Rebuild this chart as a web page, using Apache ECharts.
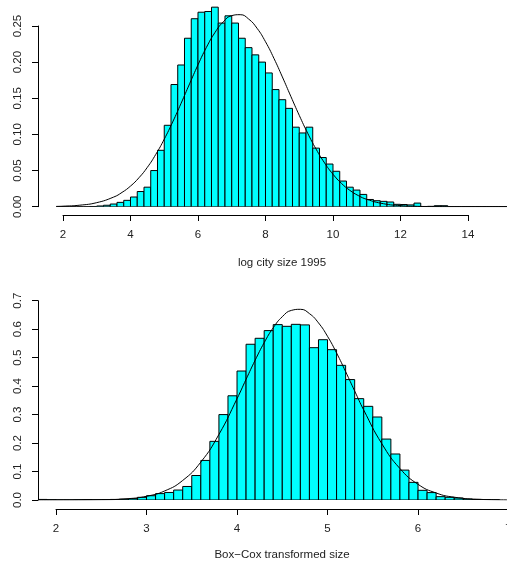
<!DOCTYPE html>
<html>
<head>
<meta charset="utf-8">
<script src="https://cdn.jsdelivr.net/npm/echarts@6/dist/echarts.min.js"></script>
<style>
html, body { margin: 0; padding: 0; background: #fff; }
#main { width: 507px; height: 561px; }
</style>
</head>
<body>
<div id="main"></div>
<script>
// top histogram: log city size 1995, bins of 0.2 starting at 1.8
var topBreakStart = 1.8;
var topBinWidth = 0.2;
var topDensity = [0, 0, 0, 0, 0,
  0.0003, 0.001, 0.002, 0.0037, 0.006, 0.0088, 0.0134, 0.021, 0.027, 0.050,
  0.078, 0.1126, 0.169, 0.196, 0.233, 0.260, 0.269, 0.270, 0.276, 0.254,
  0.264, 0.254, 0.233, 0.220, 0.210, 0.200, 0.185, 0.162, 0.148, 0.136,
  0.110, 0.102, 0.110, 0.081, 0.068, 0.059, 0.049, 0.0355, 0.027, 0.023,
  0.017, 0.010, 0.0083, 0.0074, 0.0065, 0.0033, 0.003, 0.0025, 0.005, 0.0003,
  0.0005, 0.0014, 0.0014,
  0, 0, 0, 0, 0, 0, 0, 0, 0];
// fitted normal curve
var topCurveX = [1.8, 2, 2.5, 3, 3.5, 3.75, 4, 4.25, 4.5, 4.75, 5, 5.25, 5.5, 5.75, 6, 6.25, 6.5, 6.75,
  7, 7.25, 7.5, 7.75, 8, 8.25, 8.5, 8.75, 9, 9.25, 9.5, 9.75, 10, 10.25, 10.5, 10.75,
  11, 11.5, 12, 12.5, 13, 13.5, 14, 15.2];
var topCurveY = [0.0004, 0.0007, 0.0021, 0.0056, 0.0133, 0.0198, 0.0285, 0.0400, 0.0545, 0.0724, 0.0934,
  0.1172, 0.1431, 0.1699, 0.1962, 0.2204, 0.2407, 0.2557, 0.2643, 0.2656, 0.2596, 0.2468, 0.2282,
  0.2052, 0.1795, 0.1527, 0.1264, 0.1017, 0.0796, 0.0606, 0.0449, 0.0323, 0.0226, 0.0154,
  0.0102, 0.0041, 0.0015, 0.0005, 0.0001, 0, 0, 0];

// bottom histogram: Box-Cox transformed size, bins of 0.1 starting at 1.8
var botBreakStart = 1.8;
var botBinWidth = 0.1;
var botDensity = [0.002, 0.001, 0.0005, 0.0005, 0.001, 0.0015, 0.001, 0.0015, 0.002, 0.003,
  0.0047, 0.0094, 0.015, 0.0225, 0.0265, 0.035, 0.0475, 0.086, 0.139, 0.206,
  0.300, 0.366, 0.453, 0.547, 0.568, 0.595, 0.616, 0.610, 0.617, 0.615,
  0.535, 0.563, 0.528, 0.473, 0.423, 0.356, 0.329, 0.2915, 0.214, 0.1616,
  0.105, 0.062, 0.034, 0.026, 0.0117, 0.0094, 0.007, 0.0035, 0.002, 0.0015,
  0.0005];
var botCurveX = [1.8, 2, 2.5, 2.8, 3, 3.2, 3.4, 3.6, 3.8, 4, 4.1, 4.2, 4.3, 4.4, 4.5, 4.6, 4.7,
  4.8, 4.9, 5, 5.1, 5.2, 5.3, 5.4, 5.6, 5.8, 6, 6.2, 6.4, 6.7, 7];
var botCurveY = [0, 0, 0.0009, 0.0048, 0.0131, 0.0317, 0.0687, 0.1331, 0.2302, 0.3557, 0.4238,
  0.4908, 0.5526, 0.6049, 0.6437, 0.6659, 0.6697, 0.6547, 0.6222, 0.5749, 0.5164, 0.4509,
  0.3828, 0.3159, 0.1977, 0.1105, 0.0551, 0.0246, 0.0098, 0.0020, 0.0003];

var topXLabel = 'log city size 1995';
var botXLabel = 'Box\u2212Cox transformed size';

function bins(start, width, dens) {
  return dens.map(function (d, i) {
    var a = +(start + i * width).toFixed(4);
    return [a, +(a + width).toFixed(4), d];
  });
}
function pairs(xs, ys) {
  return xs.map(function (x, i) { return [x, ys[i]]; });
}

function renderBin(params, api) {
  var p0 = api.coord([api.value(0), api.value(2)]);
  var p1 = api.coord([api.value(1), 0]);
  return {
    type: 'rect',
    shape: { x: p0[0], y: p0[1], width: p1[0] - p0[0], height: p1[1] - p0[1] },
    style: { fill: '#00ffff', stroke: '#000', lineWidth: 1 }
  };
}

var font = 'Liberation Sans';
var txt = '#222';
var fs = 11.5;

function hiddenAxis(grid, extra) {
  return Object.assign({ type: 'value', gridIndex: grid, show: false, min: 0, max: 1 }, extra || {});
}
function shownX(grid, min, max, interval) {
  return {
    type: 'value', gridIndex: grid, min: min, max: max, interval: interval, position: 'bottom',
    axisLine: { show: true, onZero: false, lineStyle: { color: '#000', width: 1 } },
    axisTick: { show: true, length: 6, lineStyle: { color: '#000' } },
    axisLabel: { margin: 14, fontFamily: font, fontSize: fs, color: txt, showMinLabel: true, showMaxLabel: true, hideOverlap: false },
    splitLine: { show: false }
  };
}
function shownY(grid, max, interval, digits) {
  return {
    type: 'value', gridIndex: grid, min: 0, max: max, interval: interval, position: 'left',
    axisLine: { show: true, onZero: false, lineStyle: { color: '#000', width: 1 } },
    axisTick: { show: true, length: 6, lineStyle: { color: '#000' } },
    axisLabel: {
      rotate: 90, margin: 14, fontFamily: font, fontSize: fs, color: txt,
      formatter: function (v) { return v.toFixed(digits); }
    },
    splitLine: { show: false }
  };
}
function grid(left, top, width, height) {
  return { left: left, top: top, width: width, height: height, containLabel: false, outerBoundsMode: 'none' };
}

var myChart = echarts.init(document.getElementById('main'), null, { renderer: 'canvas' });
var option = {
  animation: false,
  backgroundColor: '#fff',
  grid: [
    grid(38, 0, 469, 206.7),
    grid(63, 200, 405, 15),
    grid(38, 26, 10, 180.7),
    grid(38, 280, 469, 220),
    grid(56, 495, 452.5, 14),
    grid(38, 300.7, 10, 199.3)
  ],
  xAxis: [
    hiddenAxis(0, { min: 1.2593, max: 15.156 }),
    shownX(1, 2, 14, 2),
    hiddenAxis(2),
    hiddenAxis(3, { min: 1.801, max: 6.983 }),
    shownX(4, 2, 7, 1),
    hiddenAxis(5)
  ],
  yAxis: [
    hiddenAxis(0, { min: 0, max: 0.2859 }),
    hiddenAxis(1),
    shownY(2, 0.25, 0.05, 2),
    hiddenAxis(3, { min: 0, max: 0.7727 }),
    hiddenAxis(4),
    shownY(5, 0.7, 0.1, 1)
  ],
  series: [
    {
      type: 'custom', xAxisIndex: 0, yAxisIndex: 0, renderItem: renderBin,
      encode: { x: [0, 1], y: 2 }, data: bins(topBreakStart, topBinWidth, topDensity), clip: true
    },
    {
      type: 'line', xAxisIndex: 0, yAxisIndex: 0, data: pairs(topCurveX, topCurveY),
      showSymbol: false, smooth: true, lineStyle: { color: '#000', width: 1 }, z: 5
    },
    {
      type: 'custom', xAxisIndex: 3, yAxisIndex: 3, renderItem: renderBin,
      encode: { x: [0, 1], y: 2 }, data: bins(botBreakStart, botBinWidth, botDensity), clip: true
    },
    {
      type: 'line', xAxisIndex: 3, yAxisIndex: 3, data: pairs(botCurveX, botCurveY),
      showSymbol: false, smooth: true, lineStyle: { color: '#000', width: 1 }, z: 5
    }
  ],
  graphic: [
    {
      type: 'text', x: 282, y: 263,
      style: { text: topXLabel, fill: txt, font: fs + 'px "' + font + '"', align: 'center', verticalAlign: 'middle' }
    },
    {
      type: 'text', x: 282, y: 555,
      style: { text: botXLabel, fill: txt, font: fs + 'px "' + font + '"', align: 'center', verticalAlign: 'middle' }
    }
  ]
};
myChart.setOption(option);
</script>
</body>
</html>
